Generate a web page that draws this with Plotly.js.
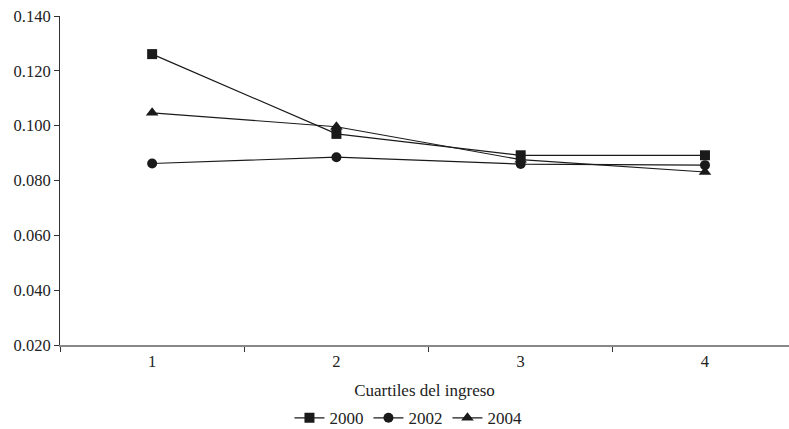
<!DOCTYPE html>
<html>
<head>
<meta charset="utf-8">
<script src="https://cdn.plot.ly/plotly-3.0.1.min.js"></script>
<style>html,body{margin:0;padding:0;background:#fff;}#chart{width:789px;height:429px;}</style>
</head>
<body>
<div id="chart"></div>
<script>
const categories = ["1", "2", "3", "4"];
const seriesNames = ["2000", "2002", "2004"];
const values2000 = [0.1261, 0.0970, 0.0892, 0.0892];
const values2002 = [0.0862, 0.0885, 0.0860, 0.0856];
const values2004 = [0.1047, 0.0996, 0.0876, 0.0831];
const yTicks = [0.020, 0.040, 0.060, 0.080, 0.100, 0.120, 0.140];

const symbols = ["square", "circle", "triangle-up"];
const allValues = [values2000, values2002, values2004];

const traces = allValues.map((vals, i) => ({
  x: categories,
  y: vals,
  name: seriesNames[i],
  type: "scatter",
  mode: "lines+markers",
  line: {color: "#1a1a1a", width: 1.2},
  marker: {symbol: symbols[i], size: i === 2 ? 11 : 10, color: "#1a1a1a"},
  cliponaxis: false
}));

const tickFont = {family: "Liberation Serif, Times New Roman, serif", size: 16.5, color: "#222"};
const bigFont = {family: "Liberation Serif, Times New Roman, serif", size: 17, color: "#222"};

const layout = {
  width: 789,
  height: 429,
  margin: {l: 60, r: 0, t: 16, b: 84, autoexpand: false},
  paper_bgcolor: "#fff",
  plot_bgcolor: "#fff",
  font: bigFont,
  showlegend: true,
  legend: {
    orientation: "h",
    xref: "paper",
    x: 0.478, xanchor: "center",
    yref: "container",
    y: 0.025, yanchor: "middle",
    font: bigFont,
    itemwidth: 30,
    tracegroupgap: 0,
    traceorder: "normal"
  },
  xaxis: {
    type: "category",
    range: [-0.5, 3.456],
    tickson: "boundaries",
    ticks: "outside",
    ticklen: 5,
    tickcolor: "#333",
    showline: true,
    linecolor: "#888",
    linewidth: 2,
    showgrid: false,
    zeroline: false,
    automargin: false,
    tickfont: tickFont,
    title: {text: "Cuartiles del ingreso", font: bigFont, standoff: 18}
  },
  yaxis: {
    range: [0.020, 0.140],
    tickvals: yTicks,
    tickformat: ".3f",
    ticks: "outside",
    ticklen: 5,
    tickcolor: "#333",
    showline: true,
    linecolor: "#333",
    linewidth: 1,
    showgrid: false,
    zeroline: false,
    automargin: false,
    tickfont: tickFont
  }
};

Plotly.newPlot("chart", traces, layout, {displayModeBar: false, staticPlot: true});
</script>
</body>
</html>
